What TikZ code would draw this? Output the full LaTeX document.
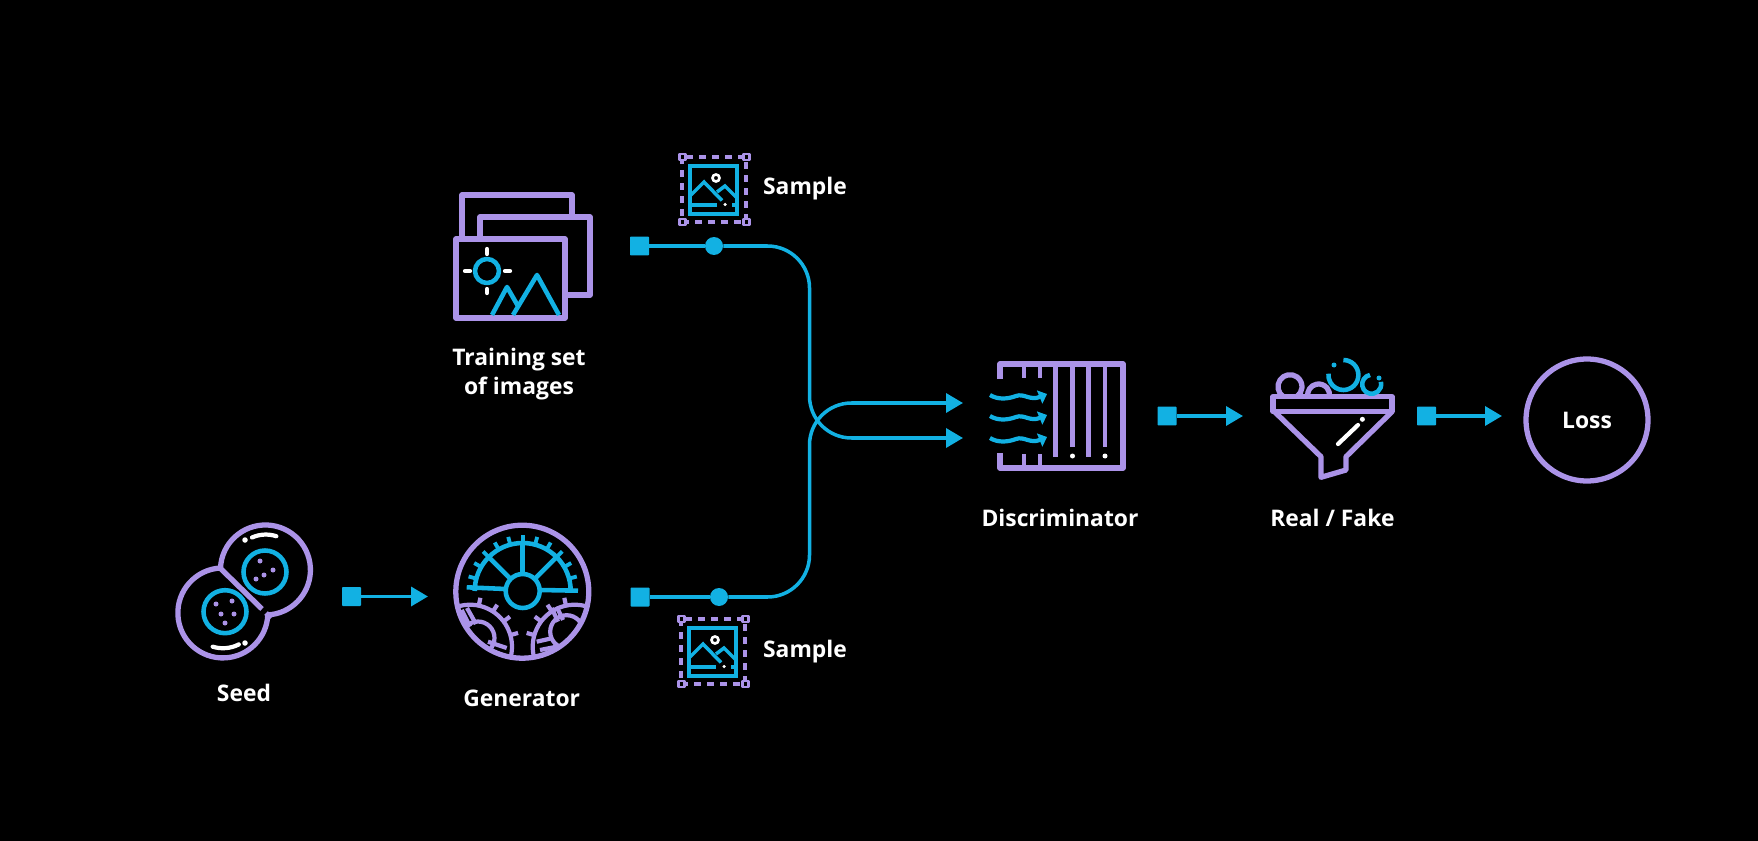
\documentclass[tikz,border=0pt]{standalone}
\usepackage{fontspec}
\setmainfont{Open Sans}
\usepackage{xcolor}
\usetikzlibrary{positioning,calc,arrows.meta}
\definecolor{iconpurple}{HTML}{AB93E8}
\definecolor{wirecyan}{HTML}{12B1E3}
\tikzset{
  sampleicon/.pic={
    \draw[thinpurple, dash pattern=on 4pt off 3.4pt] (0,0) rectangle (64,65);
    \foreach \cx/\cy in {0/0, 64/0, 0/65, 64/65}
      \draw[purpleline, line width=1.7pt, fill=black] (\cx-3,\cy-3) rectangle (\cx+3,\cy+3);
    \draw[thincyan] (8,9) rectangle (55,57);
    \draw[thincyan] (9,38) -- (22,25) -- (40,43.5);
    \draw[thincyan] (35,35) -- (43,29) -- (55,41);
    \draw[thincyan] (9,48) -- (35,48);
    \draw[thincyan] (50,48) -- (55,48);
    \draw[whiteline, line width=1.5pt] (34,21) circle[radius=0.07cm];
    \fill[white] (43,47.5) circle[radius=0.035cm];
  }
}
\begin{document}
\begin{tikzpicture}[x=0.02cm, y=-0.02cm,
  purpleline/.style={draw=iconpurple, line width=3pt, line join=round},
  thinpurple/.style={draw=iconpurple, line width=2.3pt},
  cyanline/.style={draw=wirecyan, line width=2.6pt, line join=round},
  thincyan/.style={draw=wirecyan, line width=2pt},
  whiteline/.style={draw=white, line width=2.4pt, line cap=round},
  thingear/.style={draw=iconpurple, line width=2.4pt},
  wire/.style={draw=wirecyan, line width=2pt, -{Triangle[length=0.34cm, width=0.38cm]}},
  plainwire/.style={draw=wirecyan, line width=2pt},
  startbox/.style={fill=wirecyan, rounded corners=0.5pt, minimum size=0.38cm, inner sep=0pt},
  sampledot/.style={circle, fill=wirecyan, minimum size=0.36cm, inner sep=0pt},
  lbl/.style={text=white, font=\bfseries\fontsize{13}{16.5}\selectfont, align=center, inner sep=0pt}]
\fill[black] (0,0) rectangle (1758,841);

% training set
\draw[purpleline] (462,239) -- (462,195) -- (572,195) -- (572,217);
\draw[purpleline] (480,239) -- (480,217) -- (590,217) -- (590,295) -- (565,295);
\draw[purpleline] (456,239) rectangle (565,318);
\draw[cyanline] (487,271) circle[radius=0.24cm];
\draw[whiteline] (487,249) -- (487,254);
\draw[whiteline] (487,289) -- (487,293);
\draw[whiteline] (465,271) -- (470,271);
\draw[whiteline] (505,271) -- (510,271);
\draw[cyanline] (492,315) -- (507,287) -- (518,306);
\draw[cyanline] (513,315) -- (537,275) -- (559,315);
\node[lbl] (training) at (519,374) {Training set\\of images};

% samples
\pic at (682,157) {sampleicon};
\pic at (681,619) {sampleicon};
\node[lbl] (sampletop) at (805,189) {Sample};
\node[lbl] (samplebot) at (805,652) {Sample};

% seed
\draw[purpleline] (220.5,568) arc[start angle=177.5, end angle=-87, radius=0.9cm];
\draw[purpleline] (220.5,568) arc[start angle=93, end angle=357.5, radius=0.9cm];
\draw[purpleline] (219,567) -- (262,609);
\draw[purpleline] (266,613) -- (271,618);
\draw[cyanline] (265,572) circle[radius=0.43cm];
\draw[cyanline] (225,611.7) circle[radius=0.43cm];
\foreach \px/\py in {260/561, 273/570, 264/575, 256/579, 216/604, 232/601, 221/614, 234/614, 225/623}
  \fill[iconpurple] (\px,\py) circle[radius=0.05cm];
\draw[whiteline] (252,537.5) arc[start angle=114, end angle=72, radius=0.68cm];
\draw[whiteline] (212.7,646.7) arc[start angle=253, end angle=297, radius=0.7cm];
\fill[white] (245,540) circle[radius=0.055cm];
\fill[white] (245,643) circle[radius=0.055cm];
\node[lbl] (seed) at (244,693) {Seed};

% generator
\coordinate (hub) at (522.7,591);
\coordinate (gearleft) at (470,646.7);
\coordinate (gearright) at (574.7,646.7);
\begin{scope}
  \clip (522.3,591.7) circle[radius=1.33cm];
  \draw[thingear] ($(gearleft)+(110:0.84cm)$) arc[start angle=110, end angle=-15, radius=0.84cm];
  \draw[thingear] ($(gearright)+(70:0.84cm)$) arc[start angle=70, end angle=195, radius=0.84cm];
  \draw[thingear] (478,638) circle[radius=0.33cm];
  \draw[thingear] (566.7,631.7) circle[radius=0.33cm];
  \foreach \a in {78,57,37,16}
    \draw[thingear] ($(gearleft)+(\a:0.84cm)$) -- ($(gearleft)+(\a:1cm)$);
  \foreach \a in {102,123,143,164}
    \draw[thingear] ($(gearright)+(\a:0.84cm)$) -- ($(gearright)+(\a:1cm)$);
  \draw[thingear] (461.7,610) -- (470,626.7);
  \draw[thingear] (467,608) -- (476,624);
  \draw[thingear] (488,641.7) -- (506.7,648);
  \draw[thingear] (485,648) -- (503,656.7);
  \draw[thingear] (551.7,608) -- (558,621.7);
  \draw[thingear] (556.7,606.7) -- (563,620);
  \draw[thingear] (536.7,641.7) -- (553,638);
  \draw[thingear] (540,650) -- (556.7,646.7);
\end{scope}
\draw[purpleline] (522.3,591.7) circle[radius=1.33cm];
\draw[cyanline] ($(hub)+(0:0.96cm)$) arc[start angle=0, end angle=180, radius=0.96cm];
\foreach \a in {15,30,...,165}
  \draw[cyanline, line width=2.2pt] ($(hub)+(\a:0.96cm)$) -- ($(hub)+(\a:1.12cm)$);
\foreach \a in {45,90,135}
  \draw[cyanline] ($(hub)+(\a:0.34cm)$) -- ($(hub)+(\a:0.96cm)$);
\draw[cyanline] (466.7,587.3) -- (505.7,589);
\draw[cyanline] (540,590) -- (578,590.7);
\draw[cyanline] (hub) circle[radius=0.34cm];
\node[lbl] (generator) at (521.7,698) {Generator};

% discriminator
\draw[purpleline] (1000,379) -- (1000,364) -- (1123,364) -- (1123,468) -- (1000,468) -- (1000,453);
\foreach \tx in {1023.6,1039.6} {
  \draw[thinpurple] (\tx,364) -- (\tx,378);
  \draw[thinpurple] (\tx,454) -- (\tx,468);
}
\draw[thinpurple, line width=2.7pt] (1055.7,364) -- (1055.7,457);
\draw[thinpurple, line width=2.7pt] (1072.5,364) -- (1072.5,447);
\draw[thinpurple, line width=2.7pt] (1088.6,364) -- (1088.6,457);
\draw[thinpurple, line width=2.7pt] (1105,364) -- (1105,447);
\fill[white] (1072.5,456) circle[radius=0.05cm];
\fill[white] (1105,456) circle[radius=0.05cm];
\foreach \wy in {396,417,439}
  \draw[thincyan, line width=2.4pt, -{Triangle[length=0.16cm, width=0.28cm]}] (990,\wy-1) .. controls (998,\wy+4) and (1008,\wy+3) .. (1016,\wy) .. controls (1024,\wy-3) and (1030,\wy+5) .. (1047,\wy-2);
\node[lbl] (discriminator) at (1060,518) {Discriminator};

% funnel
\draw[purpleline] (1273,396.7) rectangle (1392,411.7);
\draw[purpleline] (1274.5,411.7) -- (1321,456.7) -- (1321,477.3) -- (1346,470) -- (1346,456.7) -- (1392,411.7);
\draw[purpleline] ($(1290,386.7)+(235:0.24cm)$) arc[start angle=235, end angle=-55, radius=0.24cm];
\draw[purpleline] ($(1318.6,395)+(190:0.22cm)$) arc[start angle=190, end angle=-10, radius=0.22cm];
\draw[cyanline] ($(1343.4,375)+(90:0.3cm)$) arc[start angle=90, end angle=-185, radius=0.3cm];
\fill[wirecyan] (1334,365) circle[radius=0.05cm];
\draw[cyanline] ($(1371.7,384.3)+(100:0.19cm)$) arc[start angle=100, end angle=375, radius=0.19cm];
\fill[wirecyan] (1379,378) circle[radius=0.05cm];
\draw[whiteline] (1338,444) -- (1358,425);
\fill[white] (1362.4,419.3) circle[radius=0.05cm];
\node[lbl] (realfake) at (1332.4,518) {Real / Fake};

% loss
\node[circle, draw=iconpurple, line width=3pt, minimum size=2.44cm, inner sep=0pt, lbl] (loss) at (1587,420) {Loss};

% connectors
\node[startbox] (starttrain) at (639.5,246) {};
\node[sampledot] (dottrain) at (714,246) {};
\node[startbox] (startgen) at (640,597) {};
\node[sampledot] (dotgen) at (719,597) {};
\node[startbox] (startseed) at (351.5,596.5) {};
\node[startbox] (startdisc) at (1167,416) {};
\node[startbox] (startfunnel) at (1426.5,416) {};
\coordinate (headseed) at (428,596.5);
\coordinate (headdisc) at (1243,416);
\coordinate (headfunnel) at (1502,416);
\coordinate (headlow) at (963,438);
\coordinate (headup) at (963,403);
\coordinate (bendtrain) at (809.5,246);
\coordinate (bendlow) at (809.5,438);
\coordinate (bendgen) at (809.5,597);
\coordinate (bendup) at (809.5,403);
\draw[plainwire] (starttrain) -- (dottrain);
\draw[plainwire] (startgen) -- (dotgen);
\draw[wire, rounded corners=0.84cm] (dottrain) -- (bendtrain) -- (bendlow) -- (headlow);
\draw[wire, rounded corners=0.84cm] (dotgen) -- (bendgen) -- (bendup) -- (headup);
\draw[wire] (startseed) -- (headseed);
\draw[wire] (startdisc) -- (headdisc);
\draw[wire] (startfunnel) -- (headfunnel);
\end{tikzpicture}
\end{document}
